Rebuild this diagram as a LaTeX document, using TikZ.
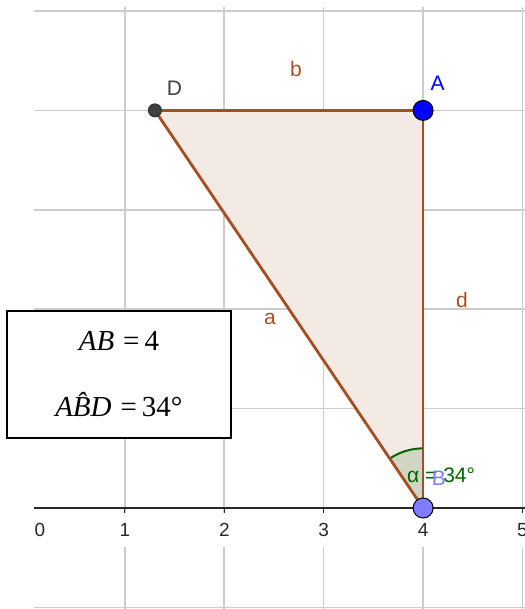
\documentclass[tikz,border=0pt]{standalone}
\usepackage{fontspec}
\setmainfont{Liberation Sans}
\newfontfamily\mathlike{Liberation Serif}
\usetikzlibrary{calc}
\definecolor{ggbrown}{RGB}{165,78,36}
\definecolor{ggfill}{RGB}{244,234,228}
\definecolor{gggreen}{RGB}{0,100,0}
\definecolor{gggrid}{RGB}{204,204,204}
\definecolor{ggaxis}{RGB}{40,40,40}
\definecolor{ggblue}{RGB}{0,0,255}
\definecolor{gglight}{RGB}{125,125,255}
\definecolor{ggdark}{RGB}{64,64,64}
\newcommand{\mv}[1]{\textit{#1}}
\newcommand{\eqsign}{\hspace{9pt}=\hspace{5pt}}
\tikzset{
    gridline/.style={draw=gggrid, line width=1.6pt},
    axisline/.style={draw=ggaxis, line width=1.8pt},
    ticklbl/.style={fill=white, text=ggaxis, font=\fontsize{19}{19}\selectfont,
                    minimum height=34pt, inner sep=1pt},
    seg/.style={draw=ggbrown, line width=2.8pt},
    seglbl/.style={text=ggbrown, font=\fontsize{21}{21}\selectfont, inner sep=0pt},
    ptlbl/.style={font=\fontsize{21}{21}\selectfont, inner sep=0pt},
    pt/.style={circle, draw=black, line width=1pt, inner sep=0pt, minimum size=20pt},
    ptbig/.style={pt, fill=ggblue},
    ptfree/.style={pt, fill=gglight},
    ptsmall/.style={pt, fill=ggdark, draw=black!80, minimum size=13pt},
    infobox/.style={draw=black, line width=1.4pt, fill=white, align=center,
                    minimum width=224pt, minimum height=127pt, inner sep=0pt,
                    font=\mathlike\fontsize{29}{66}\selectfont},
}

\begin{document}
\begin{tikzpicture}[x=99.4pt, y=99.4pt]
    \useasboundingbox (-0.2565,-1.0161) rectangle (5.0252,5.1107);
    % grid
    \foreach \y in {-1,1,2,3,4,5}
        \draw[gridline] (0.0855,\y) -- (5.0252,\y);
    \foreach \x in {1,...,5}
        \draw[gridline] (\x,-1.0161) -- (\x,5.04);
    \draw[axisline] (0.0855,0) -- (5.0252,0);
    \foreach \x in {1,...,5}
        \draw[axisline, line width=1.2pt] (\x,0) -- (\x,-0.05);
    \node[ticklbl, anchor=north] (t0) at (0.146,-0.05) {0};
    \foreach \x in {1,...,5}
        \node[ticklbl, anchor=north] (t\x) at (\x,-0.05) {\x};
    % triangle
    \coordinate (A) at (4,4);
    \coordinate (B) at (4,0);
    \coordinate (D) at (1.302,4);
    \fill[ggfill] (D) -- (A) -- (B) -- cycle;
    \fill[gggreen, fill opacity=0.15] (B) -- ($(B)+(90:0.6)$) arc[start angle=90, end angle=124, radius=0.6] -- cycle;
    \draw[gggreen, line width=2pt] ($(B)+(90:0.6)$) arc[start angle=90, end angle=124, radius=0.6];
    \draw[seg] (D) -- (A);
    \draw[seg] (D) -- (B);
    \draw[seg] (A) -- (B);
    \node[seglbl] (lb) at (2.721,4.42) {b};
    \node[seglbl] (la) at (2.46,1.906) {a};
    \node[seglbl] (ld) at (4.391,2.093) {d};
    \node[text=gggreen, font=\fontsize{21}{21}\selectfont, inner sep=0pt, anchor=west] (alpha) at (3.838,0.332) {α = 34°};
    % points
    \node[ptsmall] (pD) at (D) {};
    \node[ptbig] (pA) at (A) {};
    \node[ptfree] (pB) at (B) {};
    \node[ptlbl, text=ggdark] (lD) at (1.499,4.22) {D};
    \node[ptlbl, text=ggblue] (lA) at (4.145,4.27) {A};
    \node[ptlbl, text=gglight] (lB) at (4.16,0.297) {B};
    % info box
    \node[infobox] (info) at (0.94,1.343) {\mv{AB}\eqsign4\\\mv{A\^{B}D}\eqsign34°};
\end{tikzpicture}
\end{document}
